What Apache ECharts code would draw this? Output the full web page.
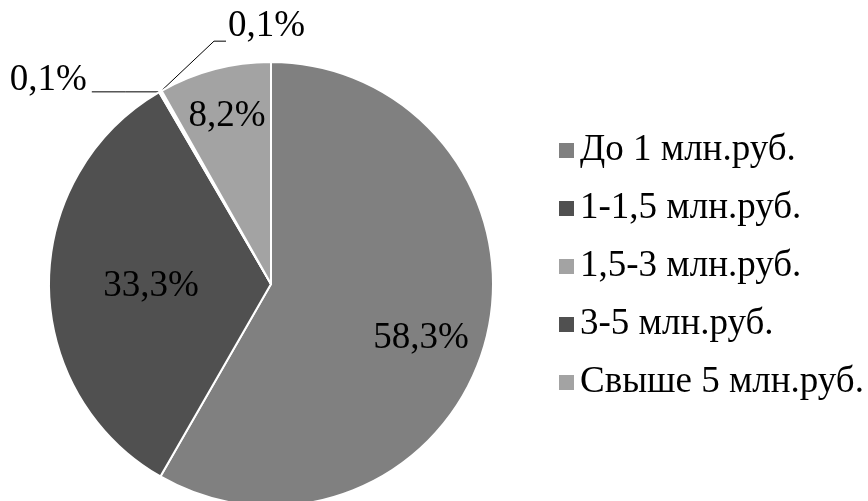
<!DOCTYPE html>
<html>
<head>
<meta charset="utf-8">
<script src="https://cdn.jsdelivr.net/npm/echarts@6/dist/echarts.min.js"></script>
<style>
html,body{margin:0;padding:0;background:#fff;}
#chart{width:868px;height:501px;}
</style>
</head>
<body>
<div id="chart"></div>
<script>
const categories = ['До 1 млн.руб.', '1-1,5 млн.руб.', '1,5-3 млн.руб.', '3-5 млн.руб.', 'Свыше 5 млн.руб.'];
const values = [58.3, 33.3, 0.1, 0.1, 8.2];
const labelTexts = ['58,3%', '33,3%', '0,1%', '0,1%', '8,2%'];

const colors = ['#808080', '#505050', '#a3a3a3', '#505050', '#a3a3a3'];
// label nudges from the default inside position (style only)
const labelOffsets = [[40, 25], [-6, 2], null, null, [-15, -57]];
const R = 222;
const CX = 271, CY = 284;

const data = categories.map((name, i) => {
  const item = { name: name, value: values[i], itemStyle: { color: colors[i] } };
  if (labelOffsets[i]) {
    item.label = { position: 'inside', offset: labelOffsets[i] };
  } else {
    item.label = { position: 'outside' };
    item.labelLine = { show: true };
  }
  return item;
});

const chart = echarts.init(document.getElementById('chart'), null, { renderer: 'canvas' });
chart.setOption({
  animation: false,
  backgroundColor: '#ffffff',
  legend: {
    orient: 'vertical',
    left: 552,
    top: 127,
    itemWidth: 17,
    itemHeight: 17,
    itemGap: 21,
    icon: 'rect',
    textStyle: { fontFamily: 'Liberation Serif', fontSize: 37, lineHeight: 37, color: '#000' },
    data: categories
  },
  series: [{
    type: 'pie',
    center: [CX, CY],
    radius: [0, R],
    startAngle: 90,
    clockwise: true,
    avoidLabelOverlap: false,
    itemStyle: { borderColor: '#ffffff', borderWidth: 2 },
    emphasis: { disabled: true },
    label: {
      show: true,
      fontFamily: 'Liberation Serif',
      fontSize: 37,
      color: '#000',
      formatter: p => labelTexts[p.dataIndex]
    },
    labelLine: { show: false, lineStyle: { color: '#000', width: 1 } },
    labelLayout: function (p) {
      if (!p.labelLinePoints) return {};
      const e = p.labelLinePoints[0];
      if (p.dataIndex === 2) {
        return {
          x: e[0] - 73, y: e[1] - 12, align: 'right', verticalAlign: 'middle',
          labelLinePoints: [e, [e[0] - 34, e[1]], [e[0] - 68, e[1]]]
        };
      } else {
        return {
          x: e[0] + 67, y: e[1] - 65, align: 'left', verticalAlign: 'middle',
          labelLinePoints: [e, [e[0] + 53, e[1] - 50], [e[0] + 65, e[1] - 50]]
        };
      }
    },
    data: data
  }]
});
</script>
</body>
</html>
